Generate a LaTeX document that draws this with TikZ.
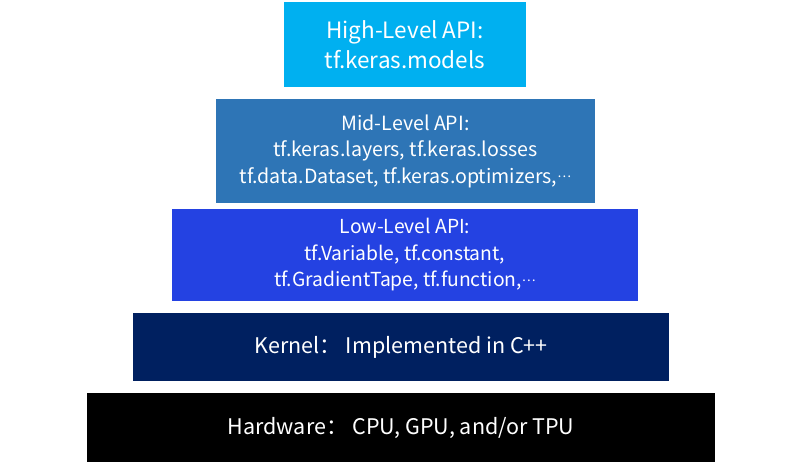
\documentclass[tikz,border=0pt]{standalone}
\usepackage{fontspec}
\setmainfont{Noto Sans CJK SC}
\definecolor{highblue}{HTML}{00B0F0}
\definecolor{midblue}{HTML}{2E75B6}
\definecolor{lowblue}{HTML}{2442E2}
\definecolor{kernelblue}{HTML}{002060}
\newcommand{\middots}{\raisebox{0.3em}{\fontsize{13}{13}\selectfont …}}
\begin{document}
\begin{tikzpicture}[x=1pt,y=1pt,
    layer/.style={draw=none,text=white,align=center,inner sep=0pt}]
    \useasboundingbox (0,0) rectangle (800,469);
    \node[layer,fill=highblue,minimum width=242,minimum height=85,
        font=\fontsize{22.5}{30}\selectfont] (high) at (405,424.5)
        {High-Level API:\\tf.keras.models};
    \node[layer,fill=midblue,minimum width=379,minimum height=104,
        font=\fontsize{19.6}{26.5}\selectfont] (mid) at (405.5,318)
        {Mid-Level API:\\tf.keras.layers, tf.keras.losses\\tf.data.Dataset, tf.keras.optimizers,\middots};
    \node[layer,fill=lowblue,minimum width=466,minimum height=92,
        font=\fontsize{19.3}{26.5}\selectfont] (low) at (405,214)
        {Low-Level API:\\tf.Variable, tf.constant,\\tf.GradientTape, tf.function,\middots};
    \node[layer,fill=kernelblue,minimum width=536,minimum height=68,
        font=\fontsize{21.5}{26}\selectfont] (kernel) at (401,122)
        {Kernel：\ Implemented in C++};
    \node[layer,fill=black,minimum width=628,minimum height=69,
        font=\fontsize{21.5}{26}\selectfont] (hardware) at (401,41.5)
        {Hardware：\ CPU, GPU, and/or TPU};
\end{tikzpicture}
\end{document}
